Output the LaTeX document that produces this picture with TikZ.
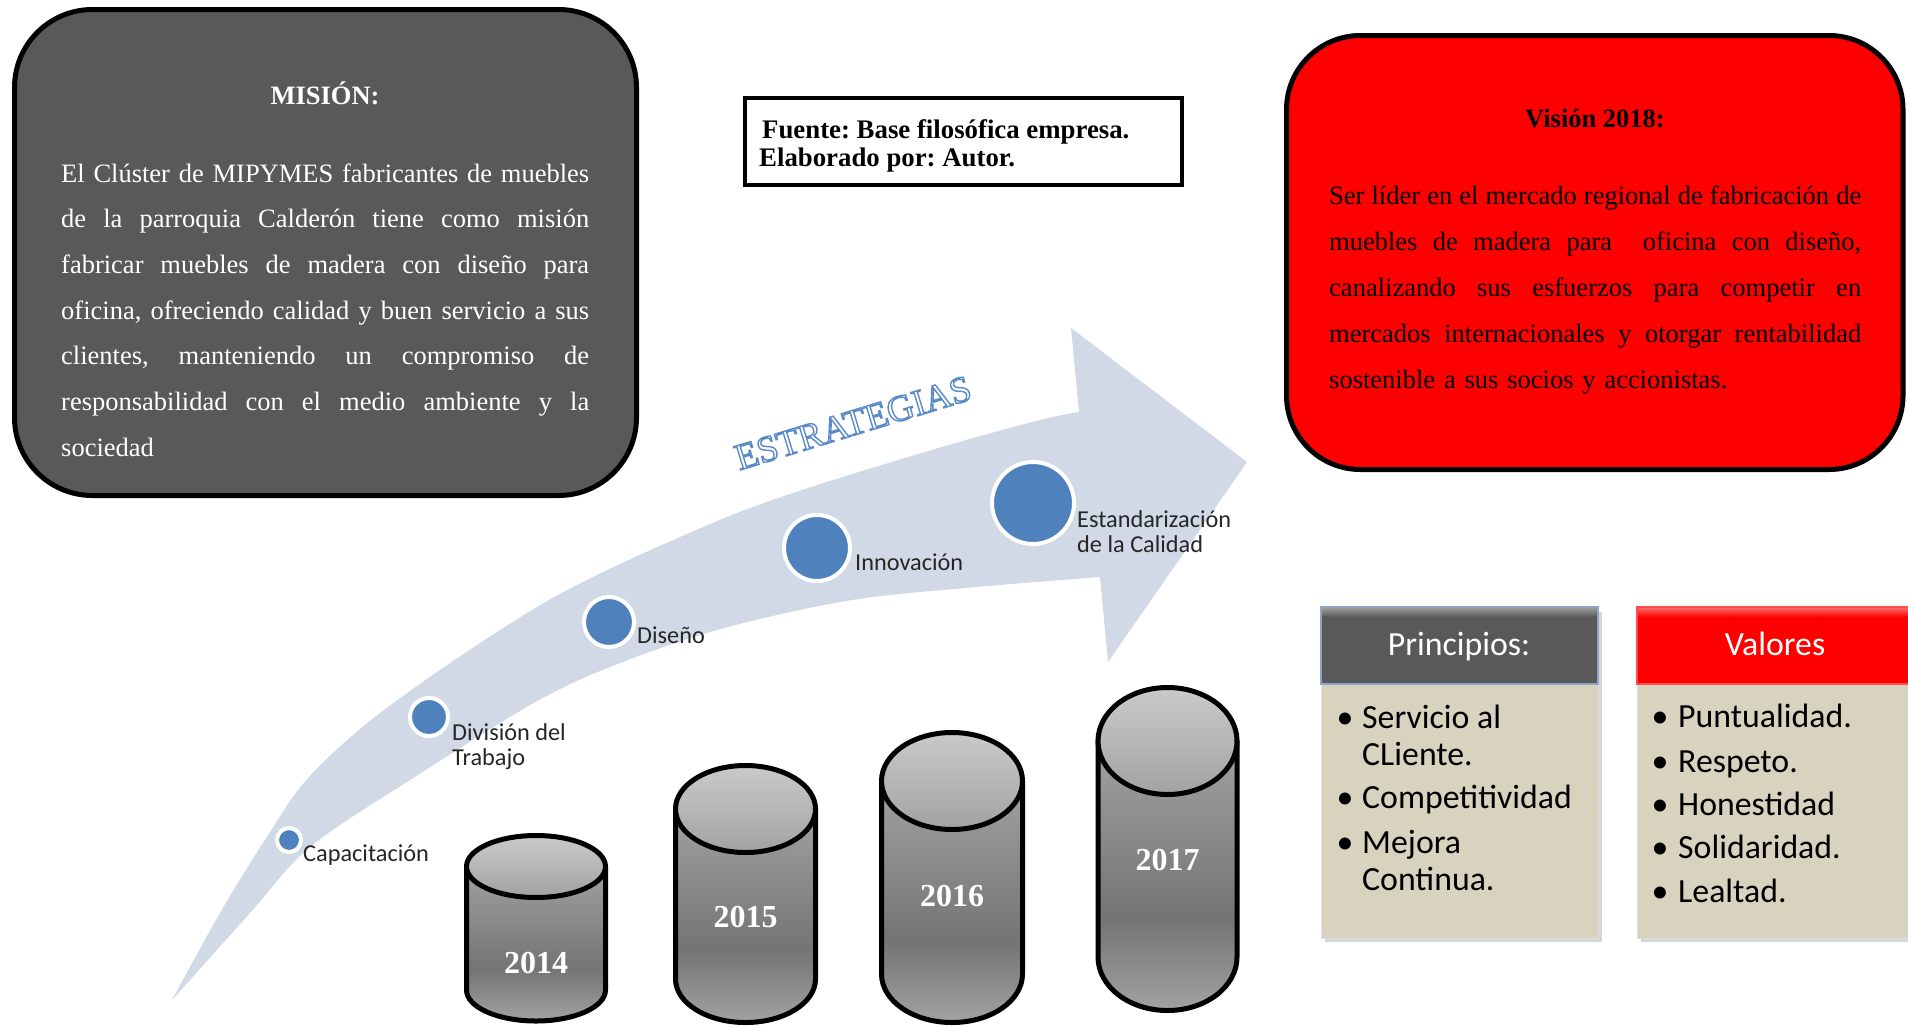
\documentclass[tikz,border=0pt]{standalone}
\usepackage{fontspec}
\setmainfont{Liberation Serif}
\newfontfamily\calib{Carlito}
\usetikzlibrary{calc}
\frenchspacing

\definecolor{misgray}{HTML}{595959}
\definecolor{visred}{HTML}{FF0000}
\definecolor{bandblue}{HTML}{D1D9E7}
\definecolor{dotblue}{HTML}{4F81BD}
\definecolor{beige}{HTML}{D7D3BF}
\definecolor{hdrline}{HTML}{8FA5C4}
\definecolor{cylA}{HTML}{C4C4C4}
\definecolor{cylB}{HTML}{747474}
\definecolor{cylC}{HTML}{E6E6E6}
\definecolor{capA}{HTML}{CACACA}
\definecolor{capB}{HTML}{A2A2A2}

% body of a drum: light at the top, dark a little below the middle, light at the bottom
\pgfdeclareverticalshading{drumbody}{100bp}{color(0bp)=(cylC); color(42bp)=(cylB); color(100bp)=(cylA)}

% one justified line of fixed width (spaces stretch evenly)
\newcommand\jline[2]{\leavevmode\hbox to #1{\spaceskip=.25em plus 1fil minus .05em\xspaceskip=\spaceskip\relax #2}\\}

% hollow lettering: white fill, thin blue stroke
\newcommand\hollow[1]{{\color{white}\special{pdf:literal direct 2 Tr 1.4 w 0.353 0.541 0.784 RG}#1\special{pdf:literal direct 0 Tr}}}

% a shaded drum: name, centre x, x radius, top y, y radius, bottom y, label, label y
\newcommand\drum[8]{%
  \shade[shading=drumbody, draw=black, line width=5pt, line join=round]
    ({#2-#3},{#4}) -- ({#2-#3},{#6})
    .. controls ({#2-#3},{#6+0.5523*#5}) and ({#2-0.5523*#3},{#6+#5}) .. ({#2},{#6+#5})
    .. controls ({#2+0.5523*#3},{#6+#5}) and ({#2+#3},{#6+0.5523*#5}) .. ({#2+#3},{#6})
    -- ({#2+#3},{#4}) -- cycle;
  \shade[top color=capA, bottom color=capB, draw=black, line width=5pt]
    ({#2},{#4}) ellipse [x radius=#3, y radius=#5];
  \node[yearlbl] (#1) at ({#2},{#8}) {#7};
}

\begin{document}
\begin{tikzpicture}[x=1pt,y=-1pt,
  roundbox/.style={line width=5pt},
  bodytext/.style={inner sep=0pt, anchor=base west, align=left,
                   font=\fontsize{26.5}{45.7}\selectfont},
  titletext/.style={inner sep=0pt, anchor=base, font=\bfseries\fontsize{26.5}{30}\selectfont},
  srctext/.style={inner sep=0pt, anchor=base west, font=\bfseries\fontsize{26.8}{28}\selectfont},
  dot/.style={circle, fill=dotblue, draw=white, line width=4pt, inner sep=0pt},
  steplabel/.style={inner sep=0pt, anchor=base west, font=\calib\fontsize{24.3}{26}\selectfont, text=black!85},
  esttext/.style={rotate=17, inner sep=0pt, font=\fontsize{37}{40}\selectfont},
  yearlbl/.style={inner sep=0pt, text=white, font=\bfseries\fontsize{32}{34}\selectfont},
  hdrtext/.style={inner sep=0pt, anchor=base, text=white, font=\calib\fontsize{33.8}{36}\selectfont},
  itemtext/.style={inner sep=0pt, anchor=base west, font=\calib\fontsize{33.8}{36}\selectfont},
  bullet/.style={inner sep=0pt, anchor=base, font=\calib\fontsize{33.8}{36}\selectfont},
]
\useasboundingbox (0,0) rectangle (1908,1026);
\clip (0,0) rectangle (1908,1026);
\fill[white] (0,0) rectangle (1908,1026);

% ---------- Misión ----------
\draw[roundbox, rounded corners=78pt, fill=misgray] (14.5,9.5) rectangle (636.5,495.5);
\node[titletext, text=white] (mtitle) at (325,104) {MISIÓN:};
\node[bodytext, text=white, text width=528pt] (mtext) at (61,182) {%
\jline{528pt}{El Clúster de MIPYMES fabricantes de muebles}%
\jline{528pt}{de la parroquia Calderón tiene como misión}%
\jline{528pt}{fabricar muebles de madera con diseño para}%
\jline{528pt}{oficina, ofreciendo calidad y buen servicio a sus}%
\jline{528pt}{clientes, manteniendo un compromiso de}%
\jline{528pt}{responsabilidad con el medio ambiente y la}%
sociedad};

% ---------- Fuente ----------
\draw[line width=3.5pt] (745,98) rectangle (1182,185);
\node[srctext] (src1) at (762,138) {Fuente: Base filosófica empresa.};
\node[srctext] (src2) at (759,166) {Elaborado por: Autor.};

% ---------- Visión ----------
\draw[roundbox, rounded corners=74pt, fill=visred] (1286.5,35.5) rectangle (1903,469.5);
\node[titletext] (vtitle) at (1595,127) {Visión 2018:};
\node[bodytext, text width=532pt, font=\fontsize{26.5}{46.2}\selectfont] (vtext) at (1329,204) {%
\jline{532pt}{Ser líder en el mercado regional de fabricación de}%
\jline{532pt}{muebles de madera para\ \ oficina con diseño,}%
\jline{532pt}{canalizando sus esfuerzos para competir en}%
\jline{532pt}{mercados internacionales y otorgar rentabilidad}%
sostenible a sus socios y accionistas.};

% ---------- curved arrow ----------
\fill[bandblue]
  plot[smooth, tension=0.55] coordinates {(172,1000) (220,913) (265,840) (310,776)
      (392,704) (549,600) (703,527) (802,490) (942,447) (1040,420) (1079,412)}
  -- (1071,328) -- (1247,462) -- (1108,662)
  -- plot[smooth, tension=0.55] coordinates {(1100,577) (977,587) (852,600) (728,627)
      (628,660) (539,700) (410,780) (310,847) (250,913) (172,1000)}
  -- cycle;

% ---------- ESTRATEGIAS ----------
\node[esttext] (est) at (853,423) {\hollow{ESTRATEGIAS}};

% ---------- steps ----------
\node[dot, minimum size=24pt] (d1) at (289,840) {};
\node[dot, minimum size=38pt] (d2) at (429,717) {};
\node[dot, minimum size=50pt] (d3) at (609,622) {};
\node[dot, minimum size=66pt] (d4) at (817,548) {};
\node[dot, minimum size=82pt] (d5) at (1033,503) {};

\node[steplabel] (l1) at (303,861) {Capacitación};
\node[steplabel] (l2a) at (452,740) {División del};
\node[steplabel] (l2b) at (452,765.5) {Trabajo};
\node[steplabel] (l3) at (637,643) {Diseño};
\node[steplabel] (l4) at (855,570) {Innovación};
\node[steplabel] (l5a) at (1077,527) {Estandarización};
\node[steplabel] (l5b) at (1077,552) {de la Calidad};

% ---------- drums ----------
\drum{y2014}{536}{69.5}{866.5}{31}{990}{2014}{963}
\drum{y2015}{745.5}{70}{809}{43.5}{979}{2015}{917}
\drum{y2016}{952}{70.5}{781}{48.5}{974}{2016}{896}
\drum{y2017}{1167.5}{69.5}{741}{53.5}{957}{2017}{860}

% ---------- Principios ----------
\fill[black!16] (1325,612) rectangle (1602,942);
\fill[beige] (1321,684) rectangle (1598,938);
\draw[black!12, line width=1pt] (1321,684) rectangle (1598,938);
\fill[misgray] (1321,607) rectangle (1598,684);
\shade[top color=black!40, bottom color=misgray] (1322,608) rectangle (1597,617);
\draw[hdrline, line width=1.5pt] (1321,607) rectangle (1598,684);
\node[hdrtext] (ptitle) at (1459,655) {Principios:};
\node[bullet] (pb1) at (1345,728) {•};
\node[itemtext] (p1a) at (1362,728) {Servicio al};
\node[itemtext] (p1b) at (1362,765) {CLiente.};
\node[bullet] (pb2) at (1345,808) {•};
\node[itemtext] (p2) at (1362,808) {Competitividad};
\node[bullet] (pb3) at (1345,853) {•};
\node[itemtext] (p3a) at (1362,853) {Mejora};
\node[itemtext] (p3b) at (1362,890) {Continua.};

% ---------- Valores ----------
\fill[black!16] (1641,612) rectangle (1915,942);
\fill[beige] (1637,684) rectangle (1915,938);
\draw[black!12, line width=1pt] (1637,684) rectangle (1915,938);
\fill[visred] (1637,607) rectangle (1915,684);
\shade[top color=red!60!white, bottom color=visred] (1638,608) rectangle (1915,617);
\draw[red!70!white, line width=1.5pt] (1637,607) rectangle (1915,684);
\node[hdrtext] (vltitle) at (1775,655) {Valores};
\node[bullet] (vb1) at (1660,727) {•};
\node[itemtext] (v1) at (1678,727) {Puntualidad.};
\node[bullet] (vb2) at (1660,772) {•};
\node[itemtext] (v2) at (1678,772) {Respeto.};
\node[bullet] (vb3) at (1660,815) {•};
\node[itemtext] (v3) at (1678,815) {Honestidad};
\node[bullet] (vb4) at (1660,858) {•};
\node[itemtext] (v4) at (1678,858) {Solidaridad.};
\node[bullet] (vb5) at (1660,902) {•};
\node[itemtext] (v5) at (1678,902) {Lealtad.};
\end{tikzpicture}
\end{document}
